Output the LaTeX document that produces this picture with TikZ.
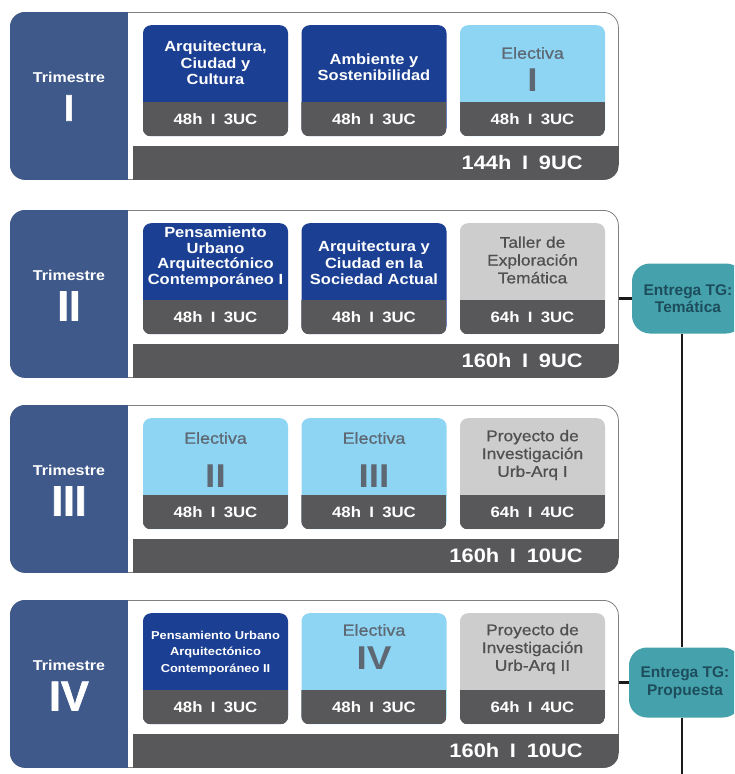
\documentclass[tikz,border=0pt]{standalone}
\usepackage{fontspec}
\setmainfont{Liberation Sans}[FakeStretch=1.12]
\newfontfamily\plainsans{Liberation Sans}
\newfontfamily\medsans{Liberation Sans}[FakeStretch=1.12, FakeBold=0.8]
\newfontfamily\romanfont{Liberation Sans}[BoldFeatures={FakeBold=1.5}]
\definecolor{panelblue}{HTML}{40598B}
\definecolor{courseblue}{HTML}{1B3F92}
\definecolor{lightblue}{HTML}{8ED5F4}
\definecolor{lightgrey}{HTML}{CDCDCD}
\definecolor{bargray}{HTML}{58585A}
\definecolor{tealc}{HTML}{45A2AC}
\definecolor{tgtext}{HTML}{1D4D5C}
\definecolor{eltext}{HTML}{5D6872}
\definecolor{greytext}{HTML}{505050}
\definecolor{outlinegray}{HTML}{808080}
\definecolor{linec}{HTML}{1A1A1A}
\newcommand\sepI{\hspace{0.55em}I\hspace{0.55em}}
\tikzset{
  blk/.style={draw=outlinegray, line width=0.8pt, fill=white, rounded corners=15pt, minimum width=608pt, minimum height=167pt, inner sep=0pt, anchor=north west},
  cbox/.style={rounded corners=8pt, minimum width=145pt, minimum height=111pt, inner sep=0pt, anchor=north},
  ttl/.style={text=white, align=center, inner sep=0pt, font=\fontsize{14.7}{16.5}\selectfont\bfseries},
  hrs/.style={text=white, inner sep=0pt, font=\fontsize{15}{18}\selectfont\bfseries},
  tot/.style={text=white, inner sep=0pt, anchor=east, font=\fontsize{19.5}{22}\selectfont\bfseries},
  trim/.style={text=white, inner sep=0pt, font=\fontsize{14.3}{17}\selectfont\bfseries},
  roman/.style={text=white, inner sep=0pt, font=\romanfont\fontsize{42}{44}\selectfont\bfseries},
  elec/.style={text=eltext, inner sep=0pt, font=\medsans\fontsize{16}{18}\selectfont},
  elnum/.style={text=eltext, inner sep=0pt, font=\fontsize{33}{36}\selectfont\bfseries},
  gtxt/.style={text=greytext, align=center, inner sep=0pt, font=\medsans\fontsize{15.5}{17.8}\selectfont},
  tg/.style={fill=tealc, rounded corners=18pt, minimum width=112pt, minimum height=70pt, inner sep=0pt, align=center, text=tgtext, font=\plainsans\fontsize{15.5}{17.5}\selectfont\bfseries},
  conn/.style={draw=linec, line width=2.6pt},
}
\newcommand\mkblock[4]{%
  \node[blk] (#1) at (10,#2) {};
  \begin{scope}
    \clip[rounded corners=15pt] (#1.north west) rectangle (#1.south east);
    \fill[panelblue] (#1.north west) rectangle ([xshift=118pt]#1.south west);
    \fill[bargray] ([xshift=123pt,yshift=34pt]#1.south west) rectangle (#1.south east);
  \end{scope}
  \node[trim] (#1trim) at ([xshift=59pt,yshift=-65pt]#1.north west) {Trimestre};
  \node[roman] (#1num) at ([xshift=59pt,yshift=-96pt]#1.north west) {#3};
  \node[tot] (#1tot) at ([xshift=-36pt,yshift=17pt]#1.south east) {#4};
}
\newcommand\mkcourse[5]{%
  \node[cbox, fill=#4] (#1) at (#2,{#3+13}) {};
  \begin{scope}
    \clip[rounded corners=8pt] (#1.north west) rectangle (#1.south east);
    \fill[bargray] ([yshift=34pt]#1.south west) rectangle (#1.south east);
  \end{scope}
  \node[hrs] (#1h) at ([yshift=17pt]#1.south) {#5};
}
\begin{document}
\begin{tikzpicture}[x=1pt,y=-1pt]
\useasboundingbox (0,0) rectangle (734,774);
\fill[white] (0,0) rectangle (734,774);
\begin{scope}
\clip (0,0) rectangle (734,774);
\node[tg] (tg1) at (688,298.5) {Entrega TG:\\Temática};
\node[tg] (tg2) at (685,682.5) {Entrega TG:\\Propuesta};
\coordinate (vx) at (682,774);
\draw[conn] (tg1.south -| vx) -- (tg2.north -| vx);
\draw[conn] (tg2.south -| vx) -- (vx);
\end{scope}
% block I
\mkblock{b1}{12}{{\fontsize{37}{40}\selectfont I}}{144h\sepI 9UC}
\mkcourse{c11}{215.5}{12}{courseblue}{48h\sepI 3UC}
\mkcourse{c12}{374}{12}{courseblue}{48h\sepI 3UC}
\mkcourse{c13}{532.5}{12}{lightblue}{48h\sepI 3UC}
\node[ttl] (c11t) at (215.5,63) {Arquitectura,\\Ciudad y\\Cultura};
\node[ttl] (c12t) at (374,67) {Ambiente y\\Sostenibilidad};
\node[elec] (c13e) at (532.5,53) {Electiva};
\node[elnum] (c13n) at (532.5,80) {I};
% block II
\mkblock{b2}{210}{II}{160h\sepI 9UC}
\mkcourse{c21}{215.5}{210}{courseblue}{48h\sepI 3UC}
\mkcourse{c22}{374}{210}{courseblue}{48h\sepI 3UC}
\mkcourse{c23}{532.5}{210}{lightgrey}{64h\sepI 3UC}
\node[ttl, font=\fontsize{14.7}{15.5}\selectfont\bfseries] (c21t) at (215.5,257) {Pensamiento\\Urbano\\Arquitectónico\\Contemporáneo I};
\node[ttl] (c22t) at (374,263) {Arquitectura y\\Ciudad en la\\Sociedad Actual};
\node[gtxt] (c23t) at (532.5,260) {Taller de\\Exploración\\Temática};
% block III
\mkblock{b3}{405}{III}{160h\sepI 10UC}
\mkcourse{c31}{215.5}{405}{lightblue}{48h\sepI 3UC}
\mkcourse{c32}{374}{405}{lightblue}{48h\sepI 3UC}
\mkcourse{c33}{532.5}{405}{lightgrey}{64h\sepI 4UC}
\node[elec] (c31e) at (215.5,438) {Electiva};
\node[elnum] (c31n) at (215.5,476) {II};
\node[elec] (c32e) at (374,438) {Electiva};
\node[elnum] (c32n) at (374,476) {III};
\node[gtxt] (c33t) at (532.5,455) {Proyecto de\\Investigación\\Urb-Arq I};
% block IV
\mkblock{b4}{600}{IV}{160h\sepI 10UC}
\mkcourse{c41}{215.5}{600}{courseblue}{48h\sepI 3UC}
\mkcourse{c42}{374}{600}{lightblue}{48h\sepI 3UC}
\mkcourse{c43}{532.5}{600}{lightgrey}{64h\sepI 4UC}
\node[ttl, font=\fontsize{11.5}{16.5}\selectfont\bfseries] (c41t) at (215.5,653) {Pensamiento Urbano\\Arquitectónico\\Contemporáneo II};
\node[elec] (c42e) at (374,630) {Electiva};
\node[elnum] (c42n) at (374,658) {IV};
\node[gtxt] (c43t) at (532.5,649) {Proyecto de\\Investigación\\Urb-Arq II};
% horizontal connectors
\draw[conn] (tg1.west -| b2.east) -- (tg1.west);
\draw[conn] (tg2.west -| b4.east) -- (tg2.west);
\end{tikzpicture}
\end{document}
